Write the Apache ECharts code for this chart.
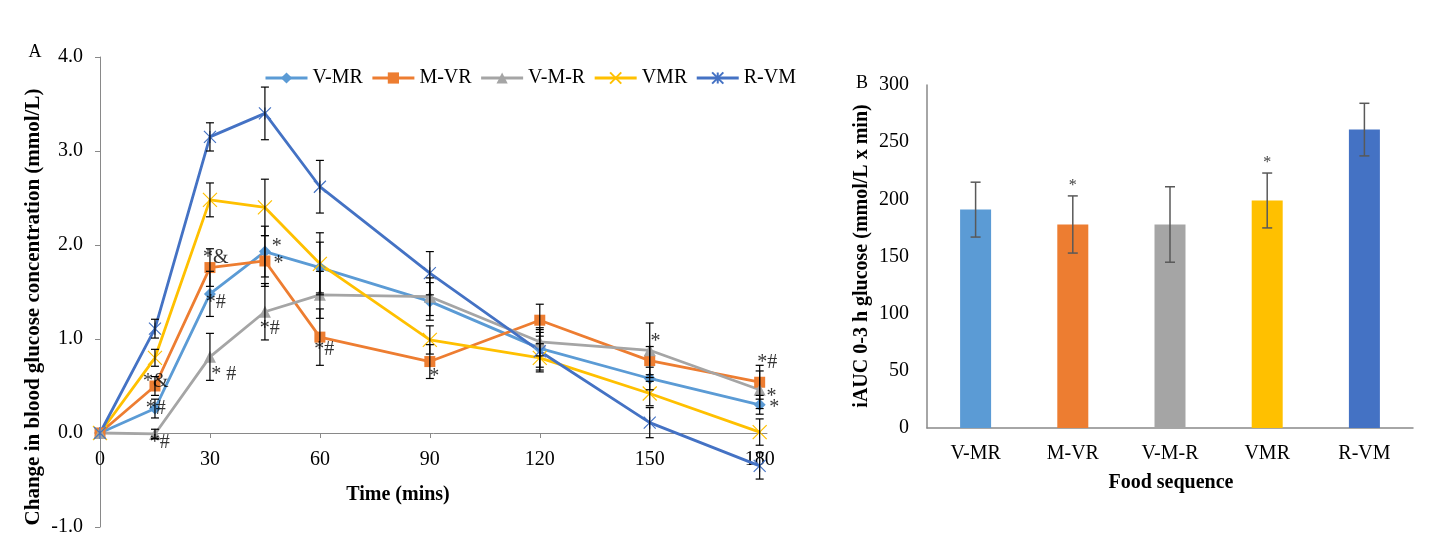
<!DOCTYPE html>
<html><head><meta charset="utf-8">
<script src="https://cdn.jsdelivr.net/npm/echarts@6/dist/echarts.min.js"></script>
<style>html,body{margin:0;padding:0;background:#fff}#c{width:1438px;height:558px}</style>
</head><body><div id="c"></div>
<script>
// ---------- Panel A data ----------
const times = [0, 15, 30, 45, 60, 90, 120, 150, 180];
const timeTicks = [0, 30, 60, 90, 120, 150, 180];
const seriesNames = ['V-MR', 'M-VR', 'V-M-R', 'VMR', 'R-VM'];
const vMR  = [0, 0.26, 1.48, 1.93, 1.76, 1.40, 0.90, 0.58, 0.30];
const mVR  = [0, 0.50, 1.76, 1.83, 1.02, 0.76, 1.20, 0.77, 0.54];
const vMR3 = [0, -0.01, 0.81, 1.29, 1.47, 1.45, 0.97, 0.88, 0.46];
const VMR  = [0, 0.80, 2.48, 2.40, 1.80, 0.99, 0.80, 0.42, 0.01];
const rVM  = [0, 1.11, 3.15, 3.40, 2.62, 1.70, 0.87, 0.11, -0.35];
const vMRErr  = [0, 0.10, 0.24, 0.27, 0.27, 0.20, 0.20, 0.12, 0.10];
const mVRErr  = [0, 0.10, 0.20, 0.27, 0.30, 0.18, 0.17, 0.15, 0.18];
const vMR3Err = [0, 0.05, 0.25, 0.30, 0.25, 0.20, 0.15, 0.29, 0.20];
const VMRErr  = [0, 0.09, 0.18, 0.30, 0.33, 0.15, 0.15, 0.13, 0.14];
const rVMErr  = [0, 0.10, 0.15, 0.28, 0.28, 0.23, 0.20, 0.16, 0.14];
// significance marks: [time, value, text]
const annotA = [
  [15.2, 0.55, '*&'], [15.2, 0.26, '*#'], [16.3, -0.10, '*#'],
  [31.6, 1.86, '*&'], [31.6, 1.39, '*#'], [33.8, 0.62, '* #'],
  [48.2, 1.98, '*'], [48.7, 1.80, '*'], [46.3, 1.11, '*#'],
  [61.2, 0.89, '*#'], [91.2, 0.60, '*'], [151.6, 0.97, '*'],
  [182.1, 0.75, '*#'], [183.2, 0.39, '*'], [184.0, 0.27, '*']
];
// ---------- Panel B data ----------
const foodSeq = ['V-MR', 'M-VR', 'V-M-R', 'VMR', 'R-VM'];
const iauc    = [191, 178, 178, 199, 261];
const iaucErr = [24, 25, 33, 24, 23];
const iaucSig = ['', '*', '', '*', ''];

const colors = ['#5B9BD5', '#ED7D31', '#A5A5A5', '#FFC000', '#4472C4'];
const FONT = '"Liberation Serif", "Times New Roman", serif';
const AXIS = '#898989';

const groups = [
  {vals: vMR,  err: vMRErr,  symbol: 'diamond', size: 12},
  {vals: mVR,  err: mVRErr,  symbol: 'rect', size: 11},
  {vals: vMR3, err: vMR3Err, symbol: 'triangle', size: 12},
  {vals: VMR,  err: VMRErr,  symbol: 'path://M0,0L10,10M10,0L0,10', size: 14},
  {vals: rVM,  err: rVMErr,  symbol: 'path://M0,0L10,10M10,0L0,10M5,0L5,10', size: 12}
];

const series = [];
groups.forEach((g, k) => {
  const isPath = g.symbol.indexOf('path://') === 0;
  series.push({
    type: 'line', name: seriesNames[k], xAxisIndex: 0, yAxisIndex: 0,
    data: times.map((t, i) => [t, g.vals[i]]),
    symbol: g.symbol, symbolSize: g.size, showSymbol: true,
    lineStyle: {color: colors[k], width: 2.8},
    itemStyle: isPath ? {color: 'rgba(0,0,0,0)', borderColor: colors[k], borderWidth: 1.2}
                      : {color: colors[k], borderColor: colors[k], borderWidth: 0},
    z: 2, silent: true
  });
});
groups.forEach((g, k) => {
  series.push({
    type: 'custom', xAxisIndex: 0, yAxisIndex: 0, silent: true, z: 3,
    data: times.map((t, i) => [t, g.vals[i], g.err[i]]),
    renderItem: (params, api) => {
      const x = api.value(0), y = api.value(1), e = api.value(2);
      if (!e) return null;
      const a = api.coord([x, y + e]), b = api.coord([x, y - e]);
      const w = 4, st = {stroke: '#000', lineWidth: 1.2};
      return {type: 'group', children: [
        {type: 'line', shape: {x1: a[0], y1: a[1], x2: b[0], y2: b[1]}, style: st},
        {type: 'line', shape: {x1: a[0] - w, y1: a[1], x2: a[0] + w, y2: a[1]}, style: st},
        {type: 'line', shape: {x1: b[0] - w, y1: b[1], x2: b[0] + w, y2: b[1]}, style: st}
      ]};
    }
  });
});
series.push({
  type: 'scatter', xAxisIndex: 0, yAxisIndex: 0, silent: true, clip: false, z: 5,
  symbolSize: 0,
  data: annotA.map(a => ({value: [a[0], a[1]], name: a[2]})),
  label: {show: true, position: 'inside', formatter: '{b}', color: '#000',
          fontFamily: FONT, fontSize: 20}
});
// Panel B
series.push({
  type: 'bar', xAxisIndex: 1, yAxisIndex: 1, barWidth: 31, silent: true,
  data: iauc.map((v, i) => ({value: v, itemStyle: {color: colors[i]}}))
});
series.push({
  type: 'custom', xAxisIndex: 1, yAxisIndex: 1, silent: true, z: 4,
  data: iauc.map((v, i) => [i, v, iaucErr[i]]),
  renderItem: (params, api) => {
    const x = api.value(0), y = api.value(1), e = api.value(2);
    const a = api.coord([x, y + e]), b = api.coord([x, y - e]);
    const w = 5, st = {stroke: '#595959', lineWidth: 1.5};
    const ch = [
      {type: 'line', shape: {x1: a[0], y1: a[1], x2: b[0], y2: b[1]}, style: st},
      {type: 'line', shape: {x1: a[0] - w, y1: a[1], x2: a[0] + w, y2: a[1]}, style: st},
      {type: 'line', shape: {x1: b[0] - w, y1: b[1], x2: b[0] + w, y2: b[1]}, style: st}
    ];
    const s = iaucSig[params.dataIndex];
    if (s) ch.push({type: 'text', x: a[0], y: a[1] - 2,
      style: {text: s, font: '16px ' + FONT, fill: '#404040', align: 'center', verticalAlign: 'bottom'}});
    return {type: 'group', children: ch};
  }
});

const chart = echarts.init(document.getElementById('c'));
chart.setOption({
  animation: false,
  backgroundColor: '#fff',
  legend: {
    data: seriesNames, left: 259, top: 63, itemWidth: 42, itemHeight: 14, itemGap: 8,
    lineStyle: {width: 3},
    textStyle: {fontFamily: FONT, fontSize: 20, color: '#000'}
  },
  grid: [
    {left: 100, right: 671, top: 57, bottom: 31},
    {left: 927, right: 25, top: 85, bottom: 130}
  ],
  xAxis: [
    {type: 'value', gridIndex: 0, min: 0, max: 182, offset: -94,
     axisLine: {onZero: false, lineStyle: {color: AXIS, width: 1}},
     axisTick: {show: true, length: 5, lineStyle: {color: AXIS}, customValues: timeTicks},
     axisLabel: {customValues: timeTicks, margin: 17, fontFamily: FONT, fontSize: 20, color: '#000'},
     splitLine: {show: false}},
    {type: 'category', gridIndex: 1, data: foodSeq,
     axisLine: {lineStyle: {color: AXIS, width: 1.5}},
     axisTick: {show: false},
     axisLabel: {margin: 16, fontFamily: FONT, fontSize: 20, color: '#000'}}
  ],
  yAxis: [
    {type: 'value', gridIndex: 0, min: -1, max: 4, interval: 1,
     axisLine: {show: true, lineStyle: {color: AXIS, width: 1}},
     axisTick: {show: true, length: 5, lineStyle: {color: AXIS}},
     axisLabel: {margin: 17, fontFamily: FONT, fontSize: 20, color: '#000',
                 formatter: v => v.toFixed(1)},
     splitLine: {show: false}},
    {type: 'value', gridIndex: 1, min: 0, max: 300, interval: 50,
     axisLine: {show: true, lineStyle: {color: AXIS, width: 1.5}},
     axisTick: {show: false},
     axisLabel: {margin: 18, fontFamily: FONT, fontSize: 20, color: '#000'},
     splitLine: {show: false}}
  ],
  graphic: [
    {type: 'text', x: 35, y: 52, style: {text: 'A', font: '18px ' + FONT, fill: '#000', align: 'center', verticalAlign: 'middle'}},
    {type: 'text', x: 862, y: 83, style: {text: 'B', font: '18px ' + FONT, fill: '#000', align: 'center', verticalAlign: 'middle'}},
    {type: 'text', x: 34, y: 307, rotation: Math.PI / 2,
     style: {text: 'Change in blood glucose concentration (mmol/L)', font: 'bold 21px ' + FONT, fill: '#000', align: 'center', verticalAlign: 'middle'}},
    {type: 'text', x: 398, y: 495,
     style: {text: 'Time (mins)', font: 'bold 20px ' + FONT, fill: '#000', align: 'center', verticalAlign: 'middle'}},
    {type: 'text', x: 862, y: 256, rotation: Math.PI / 2,
     style: {text: 'iAUC 0-3 h glucose (mmol/L x min)', font: 'bold 20px ' + FONT, fill: '#000', align: 'center', verticalAlign: 'middle'}},
    {type: 'text', x: 1171, y: 483,
     style: {text: 'Food sequence', font: 'bold 20px ' + FONT, fill: '#000', align: 'center', verticalAlign: 'middle'}}
  ],
  series: series
});
</script>
</body></html>
